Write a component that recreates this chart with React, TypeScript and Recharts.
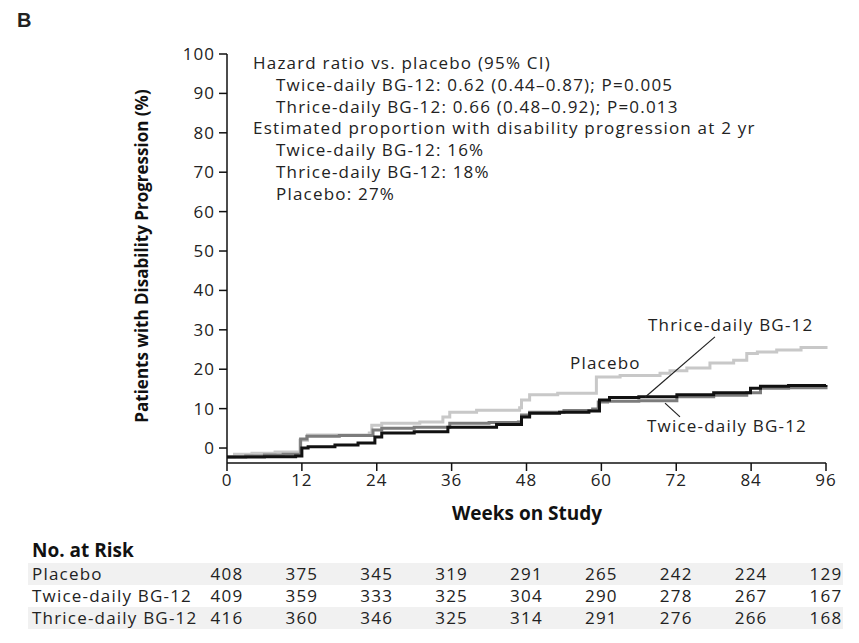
import React from 'react';
import { LineChart, Line, XAxis, YAxis, ReferenceLine } from 'recharts';

const weekTicks = [0, 12, 24, 36, 48, 60, 72, 84, 96];
const pctTicks = [0, 10, 20, 30, 40, 50, 60, 70, 80, 90, 100];

// Kaplan-Meier steps
const placeboWeeks = [0, 1.2, 4, 7.7, 11.7, 12.9, 22.8, 23.2, 24.8, 30.9, 34.6, 35.7, 40, 46.9, 47.2, 48.5, 53, 59.2, 63, 69.4, 71, 73.7, 77.4, 81.2, 83.3, 85, 88.1, 92, 96];
const placeboPct = [-2.3, -1.6, -1.3, -1.0, 2.0, 3.3, 3.8, 5.8, 6.3, 6.6, 7.9, 9.1, 9.6, 10.2, 12.2, 13.5, 13.9, 18.0, 18.4, 19.0, 19.6, 20.3, 21.6, 22.3, 24.0, 24.4, 24.9, 25.5, 25.9];

const twiceWeeks = [0, 3, 6, 9, 11.8, 12.8, 18, 23.4, 24.8, 30, 35.7, 42, 46.7, 47.2, 48.5, 54, 58.6, 59.5, 61, 66, 72.1, 78, 83.3, 85.5, 90, 96];
const twicePct = [-2.3, -2.0, -1.8, -1.6, 2.3, 3.0, 3.2, 4.6, 5.0, 5.3, 6.3, 6.5, 6.6, 8.4, 9.1, 9.5, 9.9, 11.7, 11.9, 12.0, 13.0, 13.4, 14.0, 15.2, 15.3, 15.5];

const thriceWeeks = [0, 6, 11, 12, 13, 17.3, 21, 23.7, 24.8, 30, 35.4, 43.2, 47.2, 48.5, 53.3, 58, 59.7, 61.3, 66, 72.1, 78, 83.9, 85.5, 90, 96];
const thricePct = [-2.3, -2.2, -2.0, 0, 0.3, 0.8, 1.3, 2.8, 3.8, 4.1, 5.3, 6.0, 7.9, 8.8, 9.1, 9.4, 12.2, 12.8, 13.0, 13.5, 14.0, 15.2, 15.7, 15.9, 16.0];

// No. at risk
const riskLabels = ['Placebo', 'Twice-daily BG-12', 'Thrice-daily BG-12'];
const riskPlacebo = [408, 375, 345, 319, 291, 265, 242, 224, 129];
const riskTwice = [409, 359, 333, 325, 304, 290, 278, 267, 167];
const riskThrice = [416, 360, 346, 325, 314, 291, 276, 266, 168];

const annotationLines = [
  { text: 'Hazard ratio vs. placebo (95% CI)', indent: false },
  { text: 'Twice-daily BG-12: 0.62 (0.44\u20130.87); P=0.005', indent: true },
  { text: 'Thrice-daily BG-12: 0.66 (0.48\u20130.92); P=0.013', indent: true },
  { text: 'Estimated proportion with disability progression at 2 yr', indent: false },
  { text: 'Twice-daily BG-12: 16%', indent: true },
  { text: 'Thrice-daily BG-12: 18%', indent: true },
  { text: 'Placebo: 27%', indent: true },
];

const toPoints = (weeks: number[], pct: number[]) => weeks.map((w, i) => ({ week: w, pct: pct[i] }));

const FONT = '"Open Sans", "DejaVu Sans", sans-serif';
const PLOT_LEFT = 227;
const PLOT_RIGHT = 826;

const txt: React.CSSProperties = {
  position: 'absolute',
  fontFamily: FONT,
  fontSize: 17,
  letterSpacing: 1.2,
  color: '#222',
  whiteSpace: 'nowrap',
  lineHeight: '22px',
};

const App: React.FC = () => {
  const riskRows = [riskPlacebo, riskTwice, riskThrice];
  const colX = (week: number) => PLOT_LEFT + ((PLOT_RIGHT - PLOT_LEFT) * week) / 96;

  return (
    <div style={{ position: 'absolute', left: 0, top: 0, width: 859, height: 643, background: '#fff' }}>
      <LineChart width={859} height={643} margin={{ top: 54, right: 859 - PLOT_RIGHT, bottom: 150, left: PLOT_LEFT - 60 }}>
        <XAxis
          dataKey="week"
          type="number"
          domain={[0, 96]}
          ticks={weekTicks}
          height={30}
          tickSize={8}
          tickMargin={3}
          axisLine={{ stroke: '#111', strokeWidth: 1.5 }}
          tickLine={{ stroke: '#111', strokeWidth: 1.5 }}
          tick={{ fill: '#222', fontSize: 17, fontFamily: FONT, letterSpacing: 1 }}
          allowDuplicatedCategory={false}
        />
        <YAxis
          type="number"
          domain={[-3.8, 100]}
          ticks={pctTicks}
          width={60}
          tickSize={8}
          tickMargin={4}
          allowDataOverflow
          axisLine={{ stroke: '#111', strokeWidth: 1.5 }}
          tickLine={{ stroke: '#111', strokeWidth: 1.5 }}
          tick={{ fill: '#222', fontSize: 17, fontFamily: FONT, letterSpacing: 1 }}
        />
        <Line
          data={toPoints(placeboWeeks, placeboPct)}
          dataKey="pct"
          type="stepAfter"
          stroke="#c8c8c8"
          strokeWidth={3}
          dot={false}
          activeDot={false}
          isAnimationActive={false}
        />
        <Line
          data={toPoints(twiceWeeks, twicePct)}
          dataKey="pct"
          type="stepAfter"
          stroke="#7c7c7c"
          strokeWidth={3}
          dot={false}
          activeDot={false}
          isAnimationActive={false}
        />
        <Line
          data={toPoints(thriceWeeks, thricePct)}
          dataKey="pct"
          type="stepAfter"
          stroke="#111"
          strokeWidth={3}
          dot={false}
          activeDot={false}
          isAnimationActive={false}
        />
        <ReferenceLine segment={[{ x: 78.2, y: 28.2 }, { x: 67.0, y: 12.9 }]} stroke="#222" strokeWidth={1.2} />
        <ReferenceLine segment={[{ x: 70.2, y: 11.4 }, { x: 72.6, y: 7.9 }]} stroke="#222" strokeWidth={1.2} />
      </LineChart>

      <div style={{ ...txt, left: 17, top: 9, fontFamily: '"Liberation Sans", Arial, sans-serif', fontWeight: 700, fontSize: 20, letterSpacing: 0 }}>B</div>

      <div
        style={{
          ...txt,
          left: 142,
          top: 256,
          fontWeight: 700,
          fontSize: 17,
          letterSpacing: 0,
          transform: 'translate(-50%, -50%) rotate(-90deg)',
          color: '#111',
        }}
      >
        Patients with Disability Progression (%)
      </div>
      <div style={{ ...txt, left: 527, top: 502, transform: 'translateX(-50%)', fontWeight: 700, fontSize: 19, letterSpacing: 0, color: '#111' }}>
        Weeks on Study
      </div>

      {annotationLines.map((l, i) => (
        <div key={i} style={{ ...txt, left: l.indent ? 276 : 253, top: 52 + i * 21.8 }}>
          {l.text}
        </div>
      ))}

      <div style={{ ...txt, left: 648, top: 314 }}>Thrice-daily BG-12</div>
      <div style={{ ...txt, left: 570, top: 352 }}>Placebo</div>
      <div style={{ ...txt, left: 647, top: 415 }}>Twice-daily BG-12</div>

      <div style={{ ...txt, left: 32, top: 539, fontWeight: 700, fontSize: 19, letterSpacing: 0, color: '#111' }}>No. at Risk</div>
      {riskRows.map((row, r) => (
        <div key={r} style={{ position: 'absolute', left: 28, top: 563 + r * 22, width: 815, height: 22, background: r === 1 ? '#fff' : '#f1f1f1' }}>
          <div style={{ ...txt, left: 4, top: 0 }}>{riskLabels[r]}</div>
          {row.map((n, c) => (
            <div key={c} style={{ ...txt, left: colX(weekTicks[c]) - 28, top: 0, transform: 'translateX(-50%)' }}>
              {n}
            </div>
          ))}
        </div>
      ))}
    </div>
  );
};

export default App;
